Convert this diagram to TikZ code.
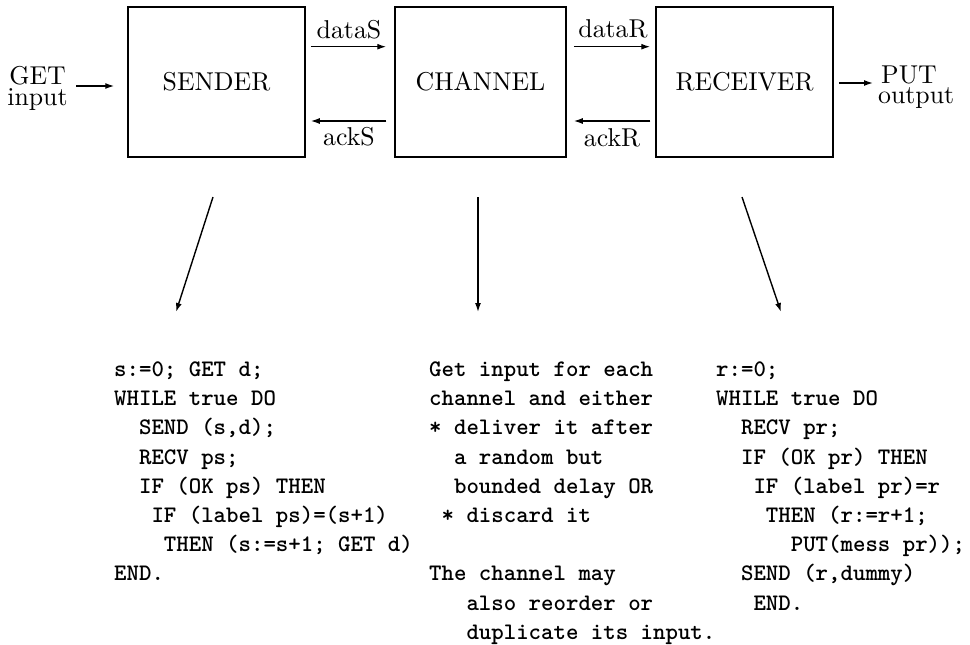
\documentclass[tikz,border=0pt]{standalone}
\usepackage{fontspec}
\newfontfamily\boxfont{lmroman10-regular.otf}
\newfontfamily\codefont{lmmonolt10-bold.otf}
\usetikzlibrary{arrows.meta}

% one line of program text: name, left x, row, indent (characters), text
\newcommand\cw{12.44}
\newcommand\codeln[5]{%
  \node[code] (#1) at (#2+#4*\cw, 376.5+#3*29.2) {#5};}

\begin{document}
\begin{tikzpicture}[x=1pt,y=-1pt,
  proc/.style={draw, line width=1.5pt, minimum width=#1, minimum height=150pt,
    inner sep=0pt, font=\boxfont\fontsize{25.8}{28}\selectfont},
  lbl/.style={inner sep=0pt, font=\boxfont\fontsize{25.8}{28}\selectfont},
  code/.style={anchor=base west, inner sep=0pt,
    font=\codefont\fontsize{23.7}{29.2}\selectfont},
  arr/.style={line width=1.4pt, -{Latex[length=9pt,width=6pt]}}]

\fill[white] (0,0) rectangle (970,645);
\useasboundingbox (0,0) rectangle (970,645);

% the three processes
\node[proc=177pt] (sender)   at (216.5,82) {SENDER};
\node[proc=171pt] (channel)  at (480.5,82) {CHANNEL};
\node[proc=177pt] (receiver) at (744.5,82) {RECEIVER};

% outside world
\node[lbl, anchor=base] (getl) at (37.5,84.5) {GET};
\node[lbl, anchor=base] (inl)  at (37.5,105.5) {input};
\node[lbl, anchor=base west] (putl) at (881,83) {PUT};
\node[lbl, anchor=base west] (outl) at (878,103.5) {output};

\coordinate (getstart) at (76,86);
\draw[arr, shorten >=13pt] (getstart) -- (getstart -| sender.west);
\coordinate (putrow) at (0,83);
\coordinate (putend) at (873,83);
\draw[arr, shorten <=5pt] (putrow -| receiver.east) -- (putend);

% message channels
\coordinate (datarow) at (0,46.7);
\coordinate (ackrow)  at (0,121);
\draw[arr, shorten <=5pt, shorten >=8pt] (datarow -| sender.east) -- (datarow -| channel.west);
\draw[arr, shorten <=8pt, shorten >=5pt] (ackrow -| channel.west) -- (ackrow -| sender.east);
\draw[arr, shorten <=7pt, shorten >=5pt] (datarow -| channel.east) -- (datarow -| receiver.west);
\draw[arr, shorten <=5pt, shorten >=7pt] (ackrow -| receiver.west) -- (ackrow -| channel.east);

\node[lbl, anchor=base] (dsl) at (349,38)  {dataS};
\node[lbl, anchor=base] (asl) at (349,145) {ackS};
\node[lbl, anchor=base] (drl) at (613,37)  {dataR};
\node[lbl, anchor=base] (arl) at (612,146) {ackR};

% refinement arrows
\coordinate (sfrom) at (213,197);   \coordinate (sto) at (176,312);
\coordinate (cfrom) at (478,197);   \coordinate (cto) at (478,312);
\coordinate (rfrom) at (742,197);   \coordinate (rto) at (781,312);
\draw[arr] (sfrom) -- (sto);
\draw[arr] (cfrom) -- (cto);
\draw[arr] (rfrom) -- (rto);

% sender program
\codeln{s0}{114}{0}{0}{s:=0; GET d;}
\codeln{s1}{114}{1}{0}{WHILE true DO}
\codeln{s2}{114}{2}{2}{SEND (s,d);}
\codeln{s3}{114}{3}{2}{RECV ps;}
\codeln{s4}{114}{4}{2}{IF (OK ps) THEN}
\codeln{s5}{114}{5}{3}{IF (label ps)=(s+1)}
\codeln{s6}{114}{6}{4}{THEN (s:=s+1; GET d)}
\codeln{s7}{114}{7}{0}{END.}

% channel behaviour
\codeln{c0}{429}{0}{0}{Get input for each}
\codeln{c1}{429}{1}{0}{channel and either}
\codeln{c2}{429}{2}{0}{* deliver it after}
\codeln{c3}{429}{3}{2}{a random but}
\codeln{c4}{429}{4}{2}{bounded delay OR}
\codeln{c5}{429}{5}{1}{* discard it}
\codeln{c7}{429}{7}{0}{The channel may}
\codeln{c8}{429}{8}{3}{also reorder or}
\codeln{c9}{429}{9}{3}{duplicate its input.}

% receiver program
\codeln{r0}{716}{0}{0}{r:=0;}
\codeln{r1}{716}{1}{0}{WHILE true DO}
\codeln{r2}{716}{2}{2}{RECV pr;}
\codeln{r3}{716}{3}{2}{IF (OK pr) THEN}
\codeln{r4}{716}{4}{3}{IF (label pr)=r}
\codeln{r5}{716}{5}{4}{THEN (r:=r+1;}
\codeln{r6}{716}{6}{6}{PUT(mess pr));}
\codeln{r7}{716}{7}{2}{SEND (r,dummy)}
\codeln{r8}{716}{8}{3}{END.}
\end{tikzpicture}
\end{document}
